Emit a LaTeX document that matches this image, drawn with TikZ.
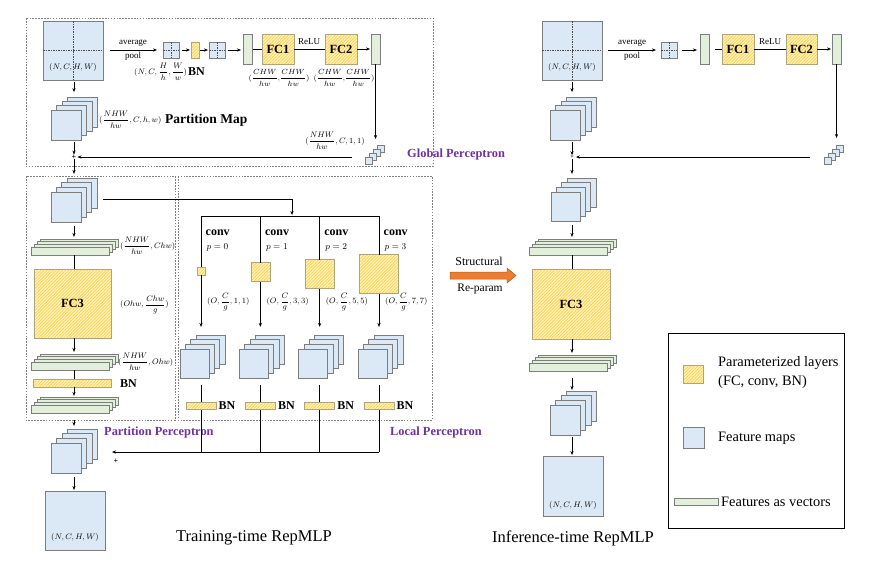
\RequirePackage{fix-cm}
\documentclass[tikz,border=0pt]{standalone}
\usepackage{fontspec}
\setmainfont{Liberation Serif}
\usetikzlibrary{arrows.meta,patterns.meta,calc}
\definecolor{fmfill}{RGB}{219,232,245}
\definecolor{vecfill}{RGB}{226,239,218}
\definecolor{ylight}{RGB}{255,243,200}
\definecolor{ystripe}{RGB}{255,210,70}
\definecolor{pborder}{RGB}{175,165,125}
\definecolor{bord}{RGB}{125,125,125}
\definecolor{purp}{RGB}{112,48,160}
\definecolor{orng}{RGB}{237,125,49}
\definecolor{orngd}{RGB}{174,90,33}
\newcommand\fsz[1]{\fontsize{#1pt}{#1pt}\selectfont}
\newcommand\fmstack[6]{\foreach \j in {3,2,1,0}{\node[fmap,minimum width=#4pt,minimum height=#4pt] (#1-\j) at ({#2+\j*#5},{#3-\j*#6}) {};}}
\newcommand\vstack[3]{\foreach \j in {3,2,1,0}{\node[vecbar] (#1-\j) at ({#2+\j*3},{#3-\j*2.7}) {};}}
\newcommand\cubes[3]{\foreach \j in {3,2,1,0}{\node[fmap,line width=0.5pt,minimum width=7pt,minimum height=7pt] (#1-\j) at ({#2+\j*4},{#3-\j*4}) {};}}
\newcommand\dcross[1]{\draw[xdash] (#1.north) -- (#1.south) (#1.west) -- (#1.east);}
\begin{document}
\begin{tikzpicture}[x=1pt,y=-1pt,
 fmap/.style={draw=bord,fill=fmfill,line width=0.7pt,inner sep=0pt,outer sep=0pt,anchor=north west},
 vecbar/.style={draw=bord,fill=vecfill,line width=0.7pt,inner sep=0pt,outer sep=0pt,anchor=north west,minimum width=78pt,minimum height=8pt},
 vecv/.style={draw=bord,fill=vecfill,line width=0.7pt,inner sep=0pt,outer sep=0pt,anchor=north west,minimum width=9pt,minimum height=30pt},
 param/.style={draw=pborder,line width=0.6pt,preaction={fill=ylight},pattern={Lines[angle=45,distance=2.2pt,line width=0.8pt]},pattern color=ystripe,inner sep=0pt,outer sep=0pt,anchor=north west},
 fcbox/.style={param,minimum width=32pt,minimum height=30pt,font=\fsz{12.5}\bfseries},
 conn/.style={line width=0.8pt,draw=black},
 arr/.style={conn,-{Stealth[length=4pt,width=3.2pt]}},
 dbox/.style={draw=gray,line width=0.6pt,dash pattern=on 1.6pt off 1.3pt},
 xdash/.style={draw=black!70,line width=0.5pt,dash pattern=on 1.5pt off 1pt},
 mlab/.style={inner sep=0pt,font=\fsz{8}},
 tlab/.style={inner sep=0pt,font=\fsz{9}},
 blab/.style={inner sep=0pt,font=\fsz{12}\bfseries},
 plab/.style={inner sep=0pt,font=\fsz{12.4}\bfseries,text=purp},
 captxt/.style={inner sep=0pt,font=\fsz{16.5}},
 legt/.style={inner sep=0pt,font=\fsz{14.4},anchor=west},
]
\useasboundingbox (0,0) rectangle (875,560);
% dashed regions
\draw[dbox] (26,18) rectangle (433,166);
\draw[dbox] (26,176) rectangle (175,420);
\draw[dbox] (178,176) rectangle (432,420);

% ===== Global perceptron (training)
\node[fmap,minimum width=60pt,minimum height=59pt] (in) at (43,21) {};
\dcross{in}
\node[mlab] (inlab) at (73,67) {$(N,C,H,W)$};
\node[fmap,minimum width=16pt,minimum height=16pt] (p1) at (163,42) {};
\dcross{p1}
\draw[arr,shorten <=7pt,shorten >=6pt] (in.east |- p1.west) -- (p1.west);
\node[tlab] (avg) at (133,43) {average};
\node[tlab] (pool) at (133,56) {pool};
\node[param,minimum width=8pt,minimum height=16pt] (bn0) at (191,42) {};
\node[fmap,minimum width=16pt,minimum height=16pt] (p2) at (209,42) {};
\dcross{p2}
\draw[arr,shorten <=3pt,shorten >=1pt] (p1.east) -- (bn0.west);
\draw[arr,shorten <=1pt,shorten >=1pt] (bn0.east) -- (p2.west);
\node[mlab,anchor=west] (poollab) at (134,72) {$\displaystyle(N,C,\frac{H}{h},\frac{W}{w})$};
\node[blab,anchor=west] (bnl) at (188,72) {BN};
\node[vecv] (g1) at (243,34) {};
\draw[arr,shorten <=3pt,shorten >=2pt] (p2.east) -- (p2.east -| g1.west);
\node[fcbox] (fc1) at (262,34) {FC1};
\draw[conn,shorten <=1pt] (g1.east |- fc1.west) -- (fc1.west);
\node[fcbox] (fc2) at (325,34) {FC2};
\draw[conn] (fc1.east) -- (fc2.west);
\node[tlab] (relu) at (309,42) {ReLU};
\node[vecv] (g2) at (371,34) {};
\draw[arr,shorten >=1pt] (fc2.east) -- (g2.west);
\node[mlab,font=\fsz{7.5}] (d1) at (279,78) {$\displaystyle(\frac{CHW}{hw},\!\frac{CHW}{hw})$};
\node[mlab,font=\fsz{7.5}] (d2) at (344,78) {$\displaystyle(\frac{CHW}{hw},\!\frac{CHW}{hw})$};
\cubes{gc}{365}{157}
\draw[arr,shorten >=6pt] (g2.south) -- (g2.south |- gc-3.north);
\node[mlab] (d3) at (335,141) {$\displaystyle(\frac{NHW}{hw},C,1,1)$};
\node[font=\fsz{8}\bfseries,inner sep=0pt] (plus1) at (74,157) {+};
\coordinate (gl) at (352,157);
\draw[arr,shorten >=1pt] (gl) -- (plus1.east);
\fmstack{pm}{51}{110}{30}{5.5}{4.3}
\draw[arr,shorten <=2pt,shorten >=5pt] (plus1 |- in.south) -- (plus1 |- pm-3.north);
\node[mlab,anchor=west] (pmlab) at (99,120) {$\displaystyle(\frac{NHW}{hw},C,h,w)$};
\node[blab,font=\fsz{13.5}\bfseries,anchor=west] (pmt) at (165,120) {Partition Map};
\draw[arr,shorten <=2pt] (plus1 |- pm-0.south) -- (plus1.north);
\node[plab,anchor=west] (gpt) at (407,155) {Global Perceptron};

% ===== Partition perceptron
\fmstack{ls}{51}{192}{30}{5.3}{4.7}
\draw[arr,shorten >=4pt] (plus1.south) -- (plus1 |- ls-3.north);
\vstack{va}{31}{247}
\draw[arr,shorten <=4pt,shorten >=2pt] (plus1 |- ls-0.south) -- (plus1 |- va-3.north);
\node[mlab,anchor=west] (valab) at (120,246) {$\displaystyle(\frac{NHW}{hw},Chw)$};
\node[param,minimum width=77pt,minimum height=69pt,font=\fsz{12.5}\bfseries] (fc3) at (34,269) {FC3};
\draw[conn] (plus1 |- va-0.south) -- (plus1 |- fc3.north);
\node[mlab,anchor=west] (fc3lab) at (120,305) {$\displaystyle(Ohw,\frac{Chw}{g})$};
\vstack{vb}{31}{362}
\draw[arr,shorten >=2pt] (plus1 |- fc3.south) -- (plus1 |- vb-3.north);
\node[mlab,anchor=west] (vblab) at (118,362) {$\displaystyle(\frac{NHW}{hw},Ohw)$};
\node[param,minimum width=78pt,minimum height=8pt] (bnp) at (33,379) {};
\draw[conn] (plus1 |- vb-0.south) -- (plus1 |- bnp.north);
\node[blab,anchor=west] (bnpl) at (120,384) {BN};
\vstack{vc}{31}{405}
\draw[arr,shorten >=1pt] (plus1 |- bnp.south) -- (plus1 |- vc-3.north);
\fmstack{os}{51}{443}{30}{5.5}{4.7}
\draw[arr,shorten <=7pt,shorten >=3pt] (plus1 |- vc-0.south) -- (plus1 |- os-3.north);
\node[fmap,minimum width=60pt,minimum height=59pt] (out) at (45,491) {};
\node[mlab] (outlab) at (75,537) {$(N,C,H,W)$};
\draw[arr,shorten <=4pt,shorten >=1pt] (plus1 |- os-0.south) -- (plus1 |- out.north);
\node[plab,anchor=west] (ppt) at (104,433) {Partition Perceptron};

% ===== Local perceptron
\coordinate (lsr) at (103,199);
\coordinate (busin) at (292,215);
\draw[arr] (lsr) -| (busin);
\coordinate (bus0) at (201,216);
\coordinate (bus3) at (379,216);
\draw[conn] (bus0) -- (bus3);
\foreach \i/\ks/\ky in {0/8/271,1/19/272,2/29/274,3/39/274}{
  \pgfmathsetmacro\lx{201+59.33*\i}
  \pgfmathtruncatemacro\kd{2*\i+1}
  \coordinate (top\i) at (\lx,216);
  \node[param,anchor=center,minimum width=\ks pt,minimum height=\ks pt] (k\i) at (\lx,\ky) {};
  \draw[conn] (top\i) -- (k\i.north);
  \node[blab,anchor=west] (conv\i) at (\lx+4.5,233) {conv};
  \node[inner sep=0pt,font=\fsz{9},anchor=west] (pl\i) at (\lx+5.5,247) {$p=\i$};
  \node[mlab,anchor=west] (kl\i) at (\lx+6,302) {$\displaystyle(O,\frac{C}{g},\kd,\kd)$};
  \fmstack{lc\i}{\lx-21}{349}{29}{5.3}{4.7}
  \draw[arr,shorten >=8pt] (k\i.south) -- (k\i.south |- lc\i-3.north);
  \coordinate (bt\i) at (\lx,385);
  \coordinate (bb\i) at (\lx,452);
  \draw[conn] (bt\i) -- (bb\i);
  \node[param,anchor=center,minimum width=30pt,minimum height=7pt] (bl\i) at (\lx,405.5) {};
  \node[blab,anchor=west] (bll\i) at ([xshift=2.5pt]bl\i.east) {BN};
}
\coordinate (sumend) at (112,452);
\draw[arr] (bb3) -- (sumend);
\node[font=\fsz{8}\bfseries,inner sep=0pt] (plus2) at (116,461) {+};
\node[plab,anchor=west] (lpt) at (390,433) {Local Perceptron};
\node[captxt] (cap1) at (254,538) {Training-time RepMLP};

% ===== Structural re-param arrow
\draw[fill=orng,draw=orngd,line width=0.5pt] (450,272) -- (507,272) -- (507,268) -- (516,275.5) -- (507,283) -- (507,279) -- (450,279) -- cycle;
\node[inner sep=0pt,font=\fsz{12}] (struct) at (479,261) {Structural};
\node[inner sep=0pt,font=\fsz{11.5}] (rep) at (480,289) {Re-param};

% ===== Inference-time
\node[fmap,minimum width=60pt,minimum height=59pt] (inI) at (542,21) {};
\dcross{inI}
\node[mlab] (inIlab) at (572,67) {$(N,C,H,W)$};
\node[fmap,minimum width=16pt,minimum height=16pt] (pI) at (661,42) {};
\dcross{pI}
\draw[arr,shorten <=6pt,shorten >=5pt] (inI.east |- pI.west) -- (pI.west);
\node[tlab] (avgI) at (632,43) {average};
\node[tlab] (poolI) at (632,56) {pool};
\node[vecv] (gI1) at (700,34) {};
\draw[arr,shorten <=5pt,shorten >=3pt] (pI.east) -- (pI.east -| gI1.west);
\node[fcbox] (fcI1) at (722,34) {FC1};
\draw[conn,shorten <=6pt] (gI1.east |- fcI1.west) -- (fcI1.west);
\node[fcbox,minimum width=31pt] (fcI2) at (786,34) {FC2};
\draw[conn] (fcI1.east) -- (fcI2.west);
\node[tlab] (reluI) at (770,42) {ReLU};
\node[vecv] (gI2) at (832,34) {};
\draw[arr,shorten >=1pt] (fcI2.east) -- (gI2.west);
\cubes{gcI}{824}{157}
\draw[arr,shorten >=7pt] (gI2.south) -- (gI2.south |- gcI-3.north);
\node[font=\fsz{6}\bfseries,inner sep=0pt] (plusI) at (572,157) {+};
\coordinate (glI) at (810,157);
\draw[arr,shorten >=2pt] (glI) -- (plusI.east);
\fmstack{pmI}{550}{110}{30}{5.5}{4.3}
\draw[arr,shorten <=2pt,shorten >=5pt] (plusI |- inI.south) -- (plusI |- pmI-3.north);
\draw[arr,shorten <=2pt] (plusI |- pmI-0.south) -- (plusI.north);
\fmstack{lsI}{551}{192}{29}{5.3}{4.7}
\draw[arr,shorten >=4pt] (plusI.south) -- (plusI |- lsI-3.north);
\vstack{vaI}{529}{247}
\draw[arr,shorten <=4pt,shorten >=2pt] (plusI |- lsI-0.south) -- (plusI |- vaI-3.north);
\node[param,minimum width=78pt,minimum height=70pt,font=\fsz{12.5}\bfseries] (fcI3) at (532,269) {FC3};
\draw[conn] (plusI |- vaI-0.south) -- (plusI |- fcI3.north);
\vstack{vbI}{529}{363}
\draw[arr,shorten >=2pt] (plusI |- fcI3.south) -- (plusI |- vbI-3.north);
\fmstack{osI}{550}{405}{30}{5.5}{4.7}
\draw[arr,shorten <=7pt,shorten >=1pt] (plusI |- vbI-0.south) -- (plusI |- osI-3.north);
\node[fmap,minimum width=60pt,minimum height=60pt] (outI) at (543,456) {};
\node[mlab] (outIlab) at (573,505) {$(N,C,H,W)$};
\draw[arr,shorten <=2pt,shorten >=1pt] (plusI |- osI-0.south) -- (plusI |- outI.north);
\node[captxt] (cap2) at (573,538) {Inference-time RepMLP};

% ===== Legend
\node[draw=black,line width=1.1pt,minimum width=176pt,minimum height=195pt,anchor=north west,inner sep=0pt] (leg) at (668,333) {};
\node[param,minimum width=20pt,minimum height=18pt] (lg1) at (683,365) {};
\node[legt] (lg1t) at (718,363) {Parameterized layers};
\node[legt] (lg1u) at (718,382) {(FC, conv, BN)};
\node[fmap,minimum width=21pt,minimum height=21pt] (lg2) at (683,427) {};
\node[legt] (lg2t) at (718,438) {Feature maps};
\node[vecbar,minimum width=44pt,minimum height=7pt] (lg3) at (674,498) {};
\node[legt] (lg3t) at (721,502) {Features as vectors};
\end{tikzpicture}
\end{document}
